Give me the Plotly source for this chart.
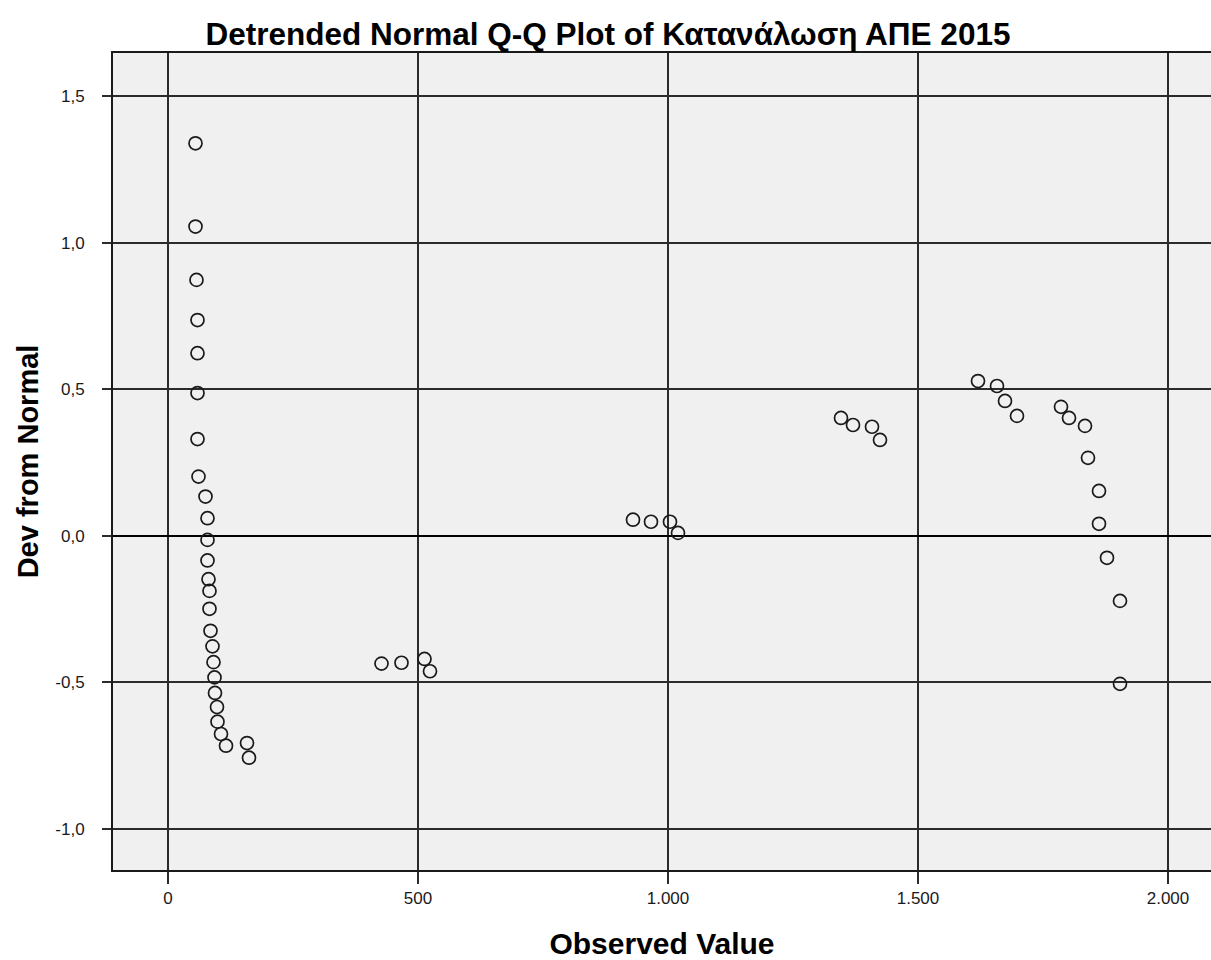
import plotly.graph_objects as go

# Observed values of renewable energy consumption (2015) and their deviation from normal
observed = [
    55, 55, 57, 59, 59, 59, 59, 61, 75, 79, 79, 79, 81, 83, 83, 85, 89, 91, 93, 94,
    98, 99, 106, 116, 158, 162,
    427, 467, 513, 524,
    930, 966, 1004, 1020,
    1346, 1370, 1408, 1424,
    1620, 1658, 1674, 1698,
    1786, 1802, 1834, 1840, 1862, 1862, 1878, 1904, 1904,
]
deviation = [
    1.339, 1.055, 0.873, 0.736, 0.623, 0.487, 0.330, 0.202, 0.134, 0.060, -0.014,
    -0.084, -0.148, -0.188, -0.249, -0.324, -0.377, -0.431, -0.483, -0.536,
    -0.584, -0.634, -0.676, -0.716, -0.707, -0.757,
    -0.436, -0.433, -0.420, -0.462,
    0.055, 0.048, 0.048, 0.010,
    0.402, 0.378, 0.372, 0.327,
    0.528, 0.511, 0.460, 0.409,
    0.440, 0.402, 0.375, 0.266, 0.153, 0.041, -0.075, -0.222, -0.505,
]

x_tick_vals = [0, 500, 1000, 1500, 2000]
x_tick_text = ["0", "500", "1.000", "1.500", "2.000"]
y_tick_vals = [-1.0, -0.5, 0.0, 0.5, 1.0, 1.5]
y_tick_text = ["-1,0", "-0,5", "0,0", "0,5", "1,0", "1,5"]

FONT = "Liberation Sans, Arial, sans-serif"
GRID = "#2b2b2b"

fig = go.Figure(
    go.Scatter(
        x=observed,
        y=deviation,
        mode="markers",
        marker=dict(symbol="circle-open", size=13, color="#1a1a1a",
                    line=dict(width=1.7, color="#1a1a1a")),
        hoverinfo="x+y",
    )
)

fig.update_layout(
    width=1211,
    height=960,
    paper_bgcolor="white",
    plot_bgcolor="#f0f0f0",
    margin=dict(l=113, r=0, t=53, b=90),
    showlegend=False,
    title=dict(
        text="<b>Detrended Normal Q-Q Plot of Κατανάλωση ΑΠΕ 2015</b>",
        x=0.502, xanchor="center", xref="container",
        y=0.965, yanchor="middle", yref="container",
        font=dict(family=FONT, size=31.5, color="#000000"),
    ),
    font=dict(family=FONT, size=17, color="#1a1a1a"),
)

fig.update_xaxes(
    range=[-110, 2086],
    tickvals=x_tick_vals,
    ticktext=x_tick_text,
    ticks="outside", ticklen=12, tickwidth=1.5, tickcolor=GRID,
    tickfont=dict(family=FONT, size=17, color="#1a1a1a"),
    showgrid=True, gridcolor=GRID, gridwidth=1.5,
    zeroline=False,
    showline=True, linecolor="#1a1a1a", linewidth=2, mirror=True,
    title=dict(text="<b>Observed Value</b>", standoff=26,
               font=dict(family=FONT, size=30, color="#000000")),
)

fig.update_yaxes(
    range=[-1.14, 1.647],
    tickvals=y_tick_vals,
    ticktext=y_tick_text,
    ticks="outside", ticklen=9, tickwidth=1.5, tickcolor=GRID,
    ticklabelstandoff=14,
    tickfont=dict(family=FONT, size=17, color="#1a1a1a"),
    showgrid=True, gridcolor=GRID, gridwidth=1.5,
    zeroline=True, zerolinecolor="#000000", zerolinewidth=2.2,
    showline=True, linecolor="#1a1a1a", linewidth=2, mirror=False,
    title=dict(text="<b>Dev from Normal</b>", standoff=8,
               font=dict(family=FONT, size=29, color="#000000")),
)

fig.write_html("out.html")
